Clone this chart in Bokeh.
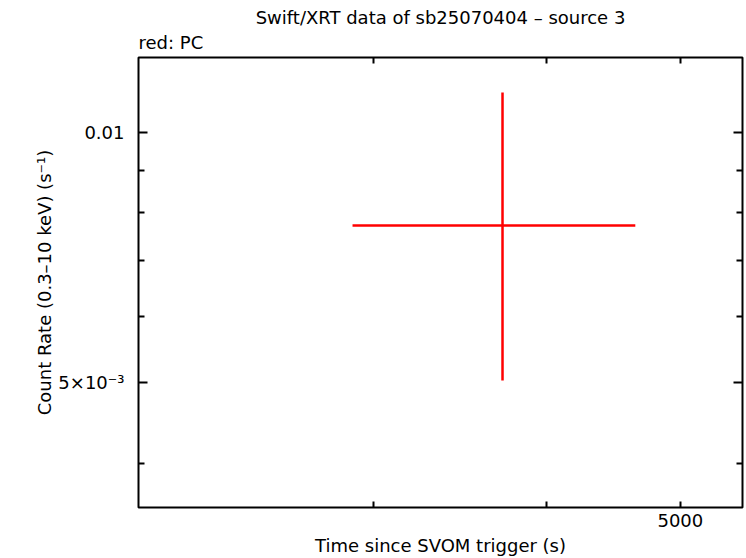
from bokeh.plotting import figure
from bokeh.models import FixedTicker, LogAxis, Range1d, CustomJSTickFormatter, Title
from bokeh.embed import file_html
from bokeh.resources import INLINE

# data
t_mid = [3720.0]
t_lo = [2899.0]
t_hi = [4639.0]
rate = [0.007719]
rate_lo = [0.005027]
rate_hi = [0.011155]

x_major = [5000]
x_minor = [3000, 4000]
x_tick_labels = ["5000"]
y_major = [0.005, 0.01]
y_minor = [0.004, 0.006, 0.007, 0.008, 0.009]
y_tick_labels = ["5×10⁻³", "0.01"]

title_text = "Swift/XRT data of sb25070404 – source 3"
sub_text = "red: PC"
x_label = "Time since SVOM trigger (s)"
y_label = "Count Rate (0.3–10 keV) (s⁻¹)"

FONT = "DejaVu Sans"
FS = "18px"


def make_formatter(tv, tl):
    return CustomJSTickFormatter(args=dict(tv=tv, tl=tl), code="""
        for (let i = 0; i < tv.length; i++) {
            if (Math.abs(tick - tv[i]) < 1e-6 * tv[i]) return tl[i];
        }
        return "";
    """)


def blank_formatter():
    return CustomJSTickFormatter(code='return "";')


p = figure(width=746, height=558, x_axis_type="log", y_axis_type="log",
           x_range=Range1d(2031, 5544), y_range=Range1d(0.003537, 0.012291),
           output_backend="svg", toolbar_location=None, title=None,
           min_border_left=138, min_border_right=4, min_border_top=57, min_border_bottom=51)
p.grid.visible = False
p.outline_line_color = "black"
p.outline_line_width = 2
p.background_fill_color = "white"
p.border_fill_color = "white"


def style_axis(ax, ticks, minor, formatter, major_in):
    ax.ticker = FixedTicker(ticks=ticks, minor_ticks=minor)
    ax.formatter = formatter
    ax.major_tick_in = major_in
    ax.major_tick_out = 0
    ax.minor_tick_in = 6
    ax.minor_tick_out = 0
    ax.major_tick_line_width = 2
    ax.minor_tick_line_width = 2
    ax.axis_line_color = None
    ax.major_label_text_font = FONT
    ax.major_label_text_font_size = FS
    ax.major_label_text_color = "black"
    ax.axis_label_text_font = FONT
    ax.axis_label_text_font_size = FS
    ax.axis_label_text_font_style = "normal"
    ax.axis_label_text_color = "black"


xa = p.xaxis[0]
style_axis(xa, x_major, x_minor, make_formatter(x_major, x_tick_labels), 6)
xa.major_label_standoff = 6
xa.axis_label = x_label
xa.axis_label_standoff = 5
ya = p.yaxis[0]
style_axis(ya, y_major, y_minor, make_formatter(y_major, y_tick_labels), 9)
ya.major_label_standoff = 14
ya.axis_label = y_label
ya.axis_label_standoff = 0

top = LogAxis()
style_axis(top, x_major, x_minor, blank_formatter(), 6)
top.major_label_standoff = 0
p.add_layout(top, "above")
right = LogAxis()
style_axis(right, y_major, y_minor, blank_formatter(), 9)
right.major_label_standoff = 0
p.add_layout(right, "right")

p.add_layout(Title(text=sub_text, align="left", text_font=FONT, text_font_size=FS,
                   text_font_style="normal", text_color="black", standoff=9), "above")
p.add_layout(Title(text=title_text, align="center", text_font=FONT, text_font_size=FS,
                   text_font_style="normal", text_color="black", standoff=-5, offset=-4), "above")

# error bars
p.segment(x0=t_lo, y0=rate, x1=t_hi, y1=rate, line_color="red", line_width=2.5)
p.segment(x0=t_mid, y0=rate_lo, x1=t_mid, y1=rate_hi, line_color="red", line_width=2.5)

open("out.html", "w").write(file_html(p, INLINE))
